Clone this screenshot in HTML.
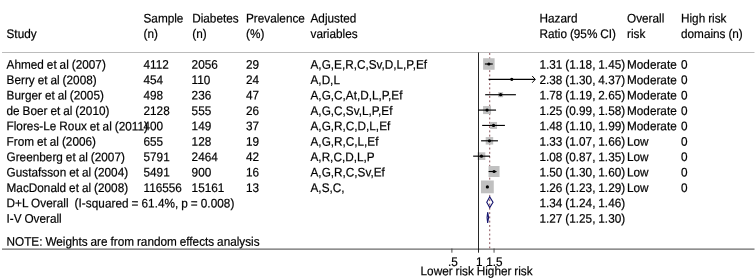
<!DOCTYPE html>
<html><head><meta charset="utf-8"><style>
html,body{margin:0;padding:0;background:#fff}
#w{will-change:transform;position:relative;width:756px;height:278px;overflow:hidden;background:#fff;font-family:"Liberation Sans",sans-serif;font-size:12.0px;color:#000}
.t{position:absolute;white-space:nowrap;word-spacing:-0.35px;-webkit-text-stroke:0.2px #000;line-height:1;height:12.0px;transform-origin:1px 50%}
.c{text-align:center;transform-origin:50% 50%}
svg{position:absolute;left:0;top:0}
</style></head><body><div id="w">
<svg width="756" height="278" viewBox="0 0 756 278">
<line x1="2" y1="52.5" x2="754.5" y2="52.5" stroke="#bcbcbc" stroke-width="1"/>
<line x1="2" y1="249.1" x2="754.5" y2="249.1" stroke="#6a6a6a" stroke-width="1.2"/>
<line x1="489.73" y1="53" x2="489.73" y2="248.3" stroke="#7a3a42" stroke-width="0.9" stroke-dasharray="1.9,2.4"/>
<rect x="483.11" y="58.25" width="11.5" height="11.5" fill="#c0c0c0"/>
<line x1="484.85" y1="64.0" x2="492.76" y2="64.00" stroke="#000" stroke-width="1.15"/>
<circle cx="488.86" cy="64.0" r="1.6" fill="#000"/>
<rect x="510.78" y="78.36" width="2" height="2" fill="#c0c0c0"/>
<line x1="488.57" y1="79.36" x2="535.20" y2="79.36" stroke="#000" stroke-width="1.15"/>
<path d="M532.20 75.96 L535.20 79.36 L532.20 82.76" stroke="#000" fill="none" stroke-width="1"/>
<circle cx="511.78" cy="79.36" r="1.6" fill="#000"/>
<rect x="498.13" y="92.22" width="5" height="5" fill="#c0c0c0"/>
<line x1="485.18" y1="94.72" x2="515.90" y2="94.72" stroke="#000" stroke-width="1.15"/>
<circle cx="500.63" cy="94.72" r="1.6" fill="#000"/>
<rect x="483.06" y="106.08" width="8" height="8" fill="#c0c0c0"/>
<line x1="478.11" y1="110.08" x2="496.05" y2="110.08" stroke="#000" stroke-width="1.15"/>
<circle cx="487.06" cy="110.08" r="1.6" fill="#000"/>
<rect x="490.04" y="121.94" width="7" height="7" fill="#c0c0c0"/>
<line x1="482.16" y1="125.44" x2="504.91" y2="125.44" stroke="#000" stroke-width="1.15"/>
<circle cx="493.54" cy="125.44" r="1.6" fill="#000"/>
<rect x="485.69" y="137.05" width="7.5" height="7.5" fill="#c0c0c0"/>
<line x1="481.10" y1="140.8" x2="497.95" y2="140.80" stroke="#000" stroke-width="1.15"/>
<circle cx="489.44" cy="140.8" r="1.6" fill="#000"/>
<rect x="477.60" y="152.31" width="7.7" height="7.7" fill="#c0c0c0"/>
<line x1="473.16" y1="156.16" x2="490.02" y2="156.16" stroke="#000" stroke-width="1.15"/>
<circle cx="481.45" cy="156.16" r="1.6" fill="#000"/>
<rect x="488.56" y="166.02" width="11" height="11" fill="#c0c0c0"/>
<line x1="488.57" y1="171.51999999999998" x2="496.54" y2="171.52" stroke="#000" stroke-width="1.15"/>
<circle cx="494.06" cy="171.51999999999998" r="1.6" fill="#000"/>
<rect x="480.97" y="180.48" width="12.8" height="12.8" fill="#c0c0c0"/>
<line x1="486.44" y1="186.88" x2="488.27" y2="186.88" stroke="#000" stroke-width="1.15"/>
<circle cx="487.37" cy="186.88" r="1.6" fill="#000"/>
<path d="M486.76 202.24 L489.73 196.84 L493.02 202.24 L489.73 207.64000000000001 Z" fill="none" stroke="#14146e" stroke-width="1.1"/>
<path d="M487.06 217.6 L487.67 212.2 L488.57 217.6 L487.67 223.0 Z" fill="none" stroke="#14146e" stroke-width="1.1"/>
<line x1="478.5" y1="52.5" x2="478.5" y2="252.7" stroke="#000" stroke-width="0.85"/>
<line x1="451.90" y1="248.5" x2="451.90" y2="252.7" stroke="#3a3a3a" stroke-width="0.9"/>
<line x1="494.06" y1="248.5" x2="494.06" y2="252.7" stroke="#3a3a3a" stroke-width="0.9"/>
</svg>
<div class="t" style="left:6px;top:27px;transform:translate(0.50px,0.79px) rotate(0.04deg) scale(0.98,1.045);">Study</div>
<div class="t" style="left:143px;top:12px;transform:translate(0.50px,0.29px) rotate(0.04deg) scale(0.98,1.045);">Sample</div>
<div class="t" style="left:143px;top:27px;transform:translate(0.50px,0.79px) rotate(0.04deg) scale(0.98,1.045);">(n)</div>
<div class="t" style="left:192px;top:12px;transform:translate(0.20px,0.29px) rotate(0.04deg) scale(0.98,1.045);">Diabetes</div>
<div class="t" style="left:192px;top:27px;transform:translate(0.20px,0.79px) rotate(0.04deg) scale(0.98,1.045);">(n)</div>
<div class="t" style="left:246px;top:12px;transform:translate(0.00px,0.29px) rotate(0.04deg) scale(0.98,1.045);">Prevalence</div>
<div class="t" style="left:246px;top:27px;transform:translate(0.00px,0.79px) rotate(0.04deg) scale(0.98,1.045);">(%)</div>
<div class="t" style="left:310px;top:12px;transform:translate(0.50px,0.29px) rotate(0.04deg) scale(0.98,1.045);">Adjusted</div>
<div class="t" style="left:310px;top:27px;transform:translate(0.50px,0.79px) rotate(0.04deg) scale(0.98,1.045);">variables</div>
<div class="t" style="left:539px;top:12px;transform:translate(0.50px,0.29px) rotate(0.04deg) scale(0.98,1.045);">Hazard</div>
<div class="t" style="left:539px;top:27px;transform:translate(0.50px,0.79px) rotate(0.04deg) scale(0.98,1.045);">Ratio (95% CI)</div>
<div class="t" style="left:627px;top:12px;transform:translate(0.00px,0.29px) rotate(0.04deg) scale(0.98,1.045);">Overall</div>
<div class="t" style="left:627px;top:27px;transform:translate(0.00px,0.79px) rotate(0.04deg) scale(0.98,1.045);">risk</div>
<div class="t" style="left:681px;top:12px;transform:translate(0.00px,0.29px) rotate(0.04deg) scale(0.98,1.045);">High risk</div>
<div class="t" style="left:681px;top:27px;transform:translate(0.00px,0.79px) rotate(0.04deg) scale(0.98,1.045);">domains (n)</div>
<div class="t" style="left:6px;top:58px;transform:translate(0.50px,0.54px) rotate(0.04deg) scale(0.98,1.045);letter-spacing:0.02px;">Ahmed et al (2007)</div>
<div class="t" style="left:143px;top:58px;transform:translate(0.50px,0.54px) rotate(0.04deg) scale(0.98,1.045);">4112</div>
<div class="t" style="left:191px;top:58px;transform:translate(0.60px,0.54px) rotate(0.04deg) scale(0.98,1.045);">2056</div>
<div class="t" style="left:246px;top:58px;transform:translate(0.00px,0.54px) rotate(0.04deg) scale(0.98,1.045);">29</div>
<div class="t" style="left:310px;top:58px;transform:translate(0.50px,0.54px) rotate(0.04deg) scale(0.98,1.045);">A,G,E,R,C,Sv,D,L,P,Ef</div>
<div class="t" style="left:539px;top:58px;transform:translate(0.50px,0.54px) rotate(0.04deg) scale(0.98,1.045);">1.31 (1.18, 1.45)</div>
<div class="t" style="left:627px;top:58px;transform:translate(0.00px,0.54px) rotate(0.04deg) scale(0.98,1.045);">Moderate</div>
<div class="t" style="left:681px;top:58px;transform:translate(0.00px,0.54px) rotate(0.04deg) scale(0.98,1.045);">0</div>
<div class="t" style="left:6px;top:73px;transform:translate(0.50px,0.94px) rotate(0.04deg) scale(0.98,1.045);letter-spacing:0.02px;">Berry et al (2008)</div>
<div class="t" style="left:143px;top:73px;transform:translate(0.50px,0.94px) rotate(0.04deg) scale(0.98,1.045);">454</div>
<div class="t" style="left:191px;top:73px;transform:translate(0.60px,0.94px) rotate(0.04deg) scale(0.98,1.045);">110</div>
<div class="t" style="left:246px;top:73px;transform:translate(0.00px,0.94px) rotate(0.04deg) scale(0.98,1.045);">24</div>
<div class="t" style="left:310px;top:73px;transform:translate(0.50px,0.94px) rotate(0.04deg) scale(0.98,1.045);">A,D,L</div>
<div class="t" style="left:539px;top:73px;transform:translate(0.50px,0.94px) rotate(0.04deg) scale(0.98,1.045);">2.38 (1.30, 4.37)</div>
<div class="t" style="left:627px;top:73px;transform:translate(0.00px,0.94px) rotate(0.04deg) scale(0.98,1.045);">Moderate</div>
<div class="t" style="left:681px;top:73px;transform:translate(0.00px,0.94px) rotate(0.04deg) scale(0.98,1.045);">0</div>
<div class="t" style="left:6px;top:89px;transform:translate(0.50px,0.34px) rotate(0.04deg) scale(0.98,1.045);letter-spacing:0.02px;">Burger et al (2005)</div>
<div class="t" style="left:143px;top:89px;transform:translate(0.50px,0.34px) rotate(0.04deg) scale(0.98,1.045);">498</div>
<div class="t" style="left:191px;top:89px;transform:translate(0.60px,0.34px) rotate(0.04deg) scale(0.98,1.045);">236</div>
<div class="t" style="left:246px;top:89px;transform:translate(0.00px,0.34px) rotate(0.04deg) scale(0.98,1.045);">47</div>
<div class="t" style="left:310px;top:89px;transform:translate(0.50px,0.34px) rotate(0.04deg) scale(0.98,1.045);">A,G,C,At,D,L,P,Ef</div>
<div class="t" style="left:539px;top:89px;transform:translate(0.50px,0.34px) rotate(0.04deg) scale(0.98,1.045);">1.78 (1.19, 2.65)</div>
<div class="t" style="left:627px;top:89px;transform:translate(0.00px,0.34px) rotate(0.04deg) scale(0.98,1.045);">Moderate</div>
<div class="t" style="left:681px;top:89px;transform:translate(0.00px,0.34px) rotate(0.04deg) scale(0.98,1.045);">0</div>
<div class="t" style="left:6px;top:104px;transform:translate(0.50px,0.74px) rotate(0.04deg) scale(0.98,1.045);letter-spacing:0.02px;">de Boer et al (2010)</div>
<div class="t" style="left:143px;top:104px;transform:translate(0.50px,0.74px) rotate(0.04deg) scale(0.98,1.045);">2128</div>
<div class="t" style="left:191px;top:104px;transform:translate(0.60px,0.74px) rotate(0.04deg) scale(0.98,1.045);">555</div>
<div class="t" style="left:246px;top:104px;transform:translate(0.00px,0.74px) rotate(0.04deg) scale(0.98,1.045);">26</div>
<div class="t" style="left:310px;top:104px;transform:translate(0.50px,0.74px) rotate(0.04deg) scale(0.98,1.045);">A,G,C,Sv,L,P,Ef</div>
<div class="t" style="left:539px;top:104px;transform:translate(0.50px,0.74px) rotate(0.04deg) scale(0.98,1.045);">1.25 (0.99, 1.58)</div>
<div class="t" style="left:627px;top:104px;transform:translate(0.00px,0.74px) rotate(0.04deg) scale(0.98,1.045);">Moderate</div>
<div class="t" style="left:681px;top:104px;transform:translate(0.00px,0.74px) rotate(0.04deg) scale(0.98,1.045);">0</div>
<div class="t" style="left:6px;top:120px;transform:translate(0.50px,0.14px) rotate(0.04deg) scale(0.98,1.045);letter-spacing:0.02px;">Flores-Le Roux et al (2011)</div>
<div class="t" style="left:143px;top:120px;transform:translate(0.50px,0.14px) rotate(0.04deg) scale(0.98,1.045);">400</div>
<div class="t" style="left:191px;top:120px;transform:translate(0.60px,0.14px) rotate(0.04deg) scale(0.98,1.045);">149</div>
<div class="t" style="left:246px;top:120px;transform:translate(0.00px,0.14px) rotate(0.04deg) scale(0.98,1.045);">37</div>
<div class="t" style="left:310px;top:120px;transform:translate(0.50px,0.14px) rotate(0.04deg) scale(0.98,1.045);">A,G,R,C,D,L,Ef</div>
<div class="t" style="left:539px;top:120px;transform:translate(0.50px,0.14px) rotate(0.04deg) scale(0.98,1.045);">1.48 (1.10, 1.99)</div>
<div class="t" style="left:627px;top:120px;transform:translate(0.00px,0.14px) rotate(0.04deg) scale(0.98,1.045);">Moderate</div>
<div class="t" style="left:681px;top:120px;transform:translate(0.00px,0.14px) rotate(0.04deg) scale(0.98,1.045);">0</div>
<div class="t" style="left:6px;top:135px;transform:translate(0.50px,0.54px) rotate(0.04deg) scale(0.98,1.045);letter-spacing:0.02px;">From et al (2006)</div>
<div class="t" style="left:143px;top:135px;transform:translate(0.50px,0.54px) rotate(0.04deg) scale(0.98,1.045);">655</div>
<div class="t" style="left:191px;top:135px;transform:translate(0.60px,0.54px) rotate(0.04deg) scale(0.98,1.045);">128</div>
<div class="t" style="left:246px;top:135px;transform:translate(0.00px,0.54px) rotate(0.04deg) scale(0.98,1.045);">19</div>
<div class="t" style="left:310px;top:135px;transform:translate(0.50px,0.54px) rotate(0.04deg) scale(0.98,1.045);">A,G,R,C,L,Ef</div>
<div class="t" style="left:539px;top:135px;transform:translate(0.50px,0.54px) rotate(0.04deg) scale(0.98,1.045);">1.33 (1.07, 1.66)</div>
<div class="t" style="left:627px;top:135px;transform:translate(0.00px,0.54px) rotate(0.04deg) scale(0.98,1.045);">Low</div>
<div class="t" style="left:681px;top:135px;transform:translate(0.00px,0.54px) rotate(0.04deg) scale(0.98,1.045);">0</div>
<div class="t" style="left:6px;top:150px;transform:translate(0.50px,0.94px) rotate(0.04deg) scale(0.98,1.045);letter-spacing:0.02px;">Greenberg et al (2007)</div>
<div class="t" style="left:143px;top:150px;transform:translate(0.50px,0.94px) rotate(0.04deg) scale(0.98,1.045);">5791</div>
<div class="t" style="left:191px;top:150px;transform:translate(0.60px,0.94px) rotate(0.04deg) scale(0.98,1.045);">2464</div>
<div class="t" style="left:246px;top:150px;transform:translate(0.00px,0.94px) rotate(0.04deg) scale(0.98,1.045);">42</div>
<div class="t" style="left:310px;top:150px;transform:translate(0.50px,0.94px) rotate(0.04deg) scale(0.98,1.045);">A,R,C,D,L,P</div>
<div class="t" style="left:539px;top:150px;transform:translate(0.50px,0.94px) rotate(0.04deg) scale(0.98,1.045);">1.08 (0.87, 1.35)</div>
<div class="t" style="left:627px;top:150px;transform:translate(0.00px,0.94px) rotate(0.04deg) scale(0.98,1.045);">Low</div>
<div class="t" style="left:681px;top:150px;transform:translate(0.00px,0.94px) rotate(0.04deg) scale(0.98,1.045);">0</div>
<div class="t" style="left:6px;top:166px;transform:translate(0.50px,0.34px) rotate(0.04deg) scale(0.98,1.045);letter-spacing:0.02px;">Gustafsson et al (2004)</div>
<div class="t" style="left:143px;top:166px;transform:translate(0.50px,0.34px) rotate(0.04deg) scale(0.98,1.045);">5491</div>
<div class="t" style="left:191px;top:166px;transform:translate(0.60px,0.34px) rotate(0.04deg) scale(0.98,1.045);">900</div>
<div class="t" style="left:246px;top:166px;transform:translate(0.00px,0.34px) rotate(0.04deg) scale(0.98,1.045);">16</div>
<div class="t" style="left:310px;top:166px;transform:translate(0.50px,0.34px) rotate(0.04deg) scale(0.98,1.045);">A,G,R,C,Sv,Ef</div>
<div class="t" style="left:539px;top:166px;transform:translate(0.50px,0.34px) rotate(0.04deg) scale(0.98,1.045);">1.50 (1.30, 1.60)</div>
<div class="t" style="left:627px;top:166px;transform:translate(0.00px,0.34px) rotate(0.04deg) scale(0.98,1.045);">Low</div>
<div class="t" style="left:681px;top:166px;transform:translate(0.00px,0.34px) rotate(0.04deg) scale(0.98,1.045);">0</div>
<div class="t" style="left:6px;top:181px;transform:translate(0.50px,0.74px) rotate(0.04deg) scale(0.98,1.045);letter-spacing:0.02px;">MacDonald et al (2008)</div>
<div class="t" style="left:143px;top:181px;transform:translate(0.50px,0.74px) rotate(0.04deg) scale(0.98,1.045);">116556</div>
<div class="t" style="left:191px;top:181px;transform:translate(0.60px,0.74px) rotate(0.04deg) scale(0.98,1.045);">15161</div>
<div class="t" style="left:246px;top:181px;transform:translate(0.00px,0.74px) rotate(0.04deg) scale(0.98,1.045);">13</div>
<div class="t" style="left:310px;top:181px;transform:translate(0.50px,0.74px) rotate(0.04deg) scale(0.98,1.045);">A,S,C,</div>
<div class="t" style="left:539px;top:181px;transform:translate(0.50px,0.74px) rotate(0.04deg) scale(0.98,1.045);">1.26 (1.23, 1.29)</div>
<div class="t" style="left:627px;top:181px;transform:translate(0.00px,0.74px) rotate(0.04deg) scale(0.98,1.045);">Low</div>
<div class="t" style="left:681px;top:181px;transform:translate(0.00px,0.74px) rotate(0.04deg) scale(0.98,1.045);">0</div>
<div class="t" style="left:6px;top:197px;transform:translate(0.50px,0.14px) rotate(0.04deg) scale(0.98,1.045);letter-spacing:0.045px;">D+L Overall&nbsp; (I-squared = 61.4%, p = 0.008)</div>
<div class="t" style="left:539px;top:197px;transform:translate(0.50px,0.14px) rotate(0.04deg) scale(0.98,1.045);">1.34 (1.24, 1.46)</div>
<div class="t" style="left:6px;top:212px;transform:translate(0.50px,0.54px) rotate(0.04deg) scale(0.98,1.045);">I-V Overall</div>
<div class="t" style="left:539px;top:212px;transform:translate(0.50px,0.54px) rotate(0.04deg) scale(0.98,1.045);">1.27 (1.25, 1.30)</div>
<div class="t" style="left:6px;top:235px;transform:translate(0.50px,0.49px) rotate(0.04deg) scale(0.98,1.045);">NOTE: Weights are from random effects analysis</div>
<div class="t c" style="left:352px;width:200px;top:255px;transform:translate(0.80px,0.74px) rotate(0.04deg) scale(0.98,1.045)">.5</div>
<div class="t c" style="left:379px;width:200px;top:255px;transform:translate(0.30px,0.74px) rotate(0.04deg) scale(0.98,1.045)">1</div>
<div class="t c" style="left:394px;width:200px;top:255px;transform:translate(0.36px,0.74px) rotate(0.04deg) scale(0.98,1.045)">1.5</div>
<div class="t c" style="left:376px;width:200px;top:265px;transform:translate(0.60px,0.09px) rotate(0.04deg) scale(0.98,1.045)">Lower risk Higher risk</div>
</div></body></html>
